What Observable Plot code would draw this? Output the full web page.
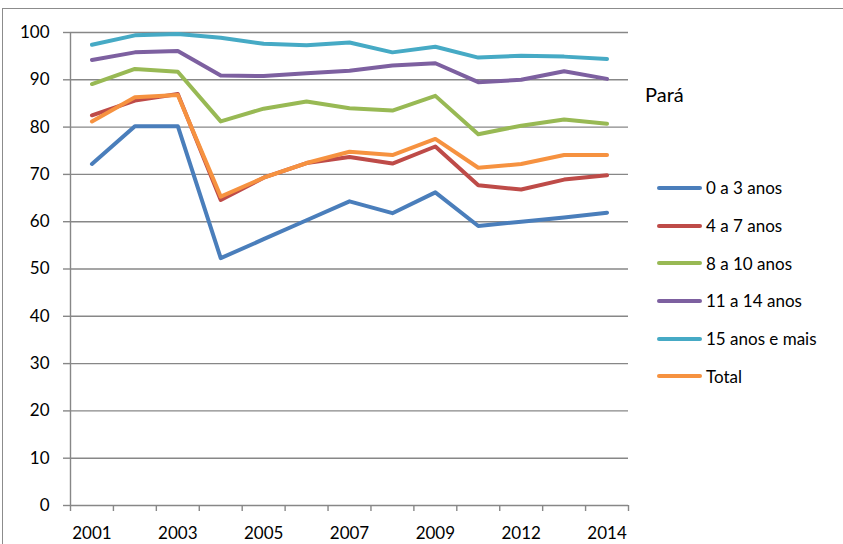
<!DOCTYPE html>
<html>
<head>
<meta charset="utf-8">
<script src="https://cdn.jsdelivr.net/npm/d3@7"></script>
<script src="https://cdn.jsdelivr.net/npm/@observablehq/plot@0.6"></script>
<style>
  html, body { margin: 0; padding: 0; background: #fff; overflow: hidden; }
  #wrap { position: relative; width: 843px; height: 544px; font-family: Lato, "Open Sans", sans-serif; }
  #border { position: absolute; left: 2px; top: 8px; width: 900px; height: 600px;
            border-left: 1px solid #8c8c8c; border-top: 1px solid #8c8c8c; box-sizing: border-box; }
  #chart { position: absolute; left: 0; top: 0; }
  #title { position: absolute; left: 645px; top: 82px; font-size: 20px; color: #000; }
  #legend { position: absolute; left: 657px; top: 169px; }
  .row { height: 37.7px; display: flex; align-items: center; font-size: 17px; color: #000; white-space: nowrap; }
  .sw { width: 45px; height: 4px; border-radius: 2px; margin-right: 4px; }
</style>
</head>
<body>
<div id="wrap">
  <div id="border"></div>
  <div id="chart"></div>
  <div id="title">Pará</div>
  <div id="legend"></div>
</div>
<script>
const years = ["2001","2002","2003","2004","2005","2006","2007","2008","2009","2011","2012","2013","2014"];
const tickYears = ["2001","2003","2005","2007","2009","2012","2014"];
const seriesNames = ["0 a 3 anos","4 a 7 anos","8 a 10 anos","11 a 14 anos","15 anos e mais","Total"];
const colors = ["#4A7EBB","#BE4B48","#98B954","#7D60A0","#46AAC5","#F69240"];
const yTicks = [0,10,20,30,40,50,60,70,80,90,100];

const v0a3   = [72.2, 80.2, 80.2, 52.3, 56.3, 60.3, 64.3, 61.8, 66.2, 59.1, 60.0, 60.9, 61.9];
const v4a7   = [82.5, 85.6, 87.0, 64.6, 69.3, 72.4, 73.7, 72.3, 75.9, 67.7, 66.8, 68.9, 69.8];
const v8a10  = [89.1, 92.3, 91.7, 81.2, 83.9, 85.4, 84.0, 83.5, 86.6, 78.5, 80.3, 81.6, 80.7];
const v11a14 = [94.2, 95.8, 96.1, 90.9, 90.8, 91.4, 91.9, 93.0, 93.5, 89.5, 90.0, 91.8, 90.2];
const v15    = [97.4, 99.4, 99.7, 98.9, 97.6, 97.3, 97.9, 95.8, 97.0, 94.7, 95.1, 94.9, 94.4];
const vTotal = [81.2, 86.3, 86.8, 65.3, 69.3, 72.4, 74.8, 74.1, 77.5, 71.4, 72.2, 74.1, 74.1];

const seriesValues = [v0a3, v4a7, v8a10, v11a14, v15, vTotal];
const data = [];
seriesNames.forEach((s, k) => {
  seriesValues[k].forEach((v, i) => data.push({i, year: years[i], serie: s, value: v}));
});

const idx = years.map((_, i) => i);
const boundaries = d3.range(-0.5, years.length, 1);
const labelIdx = idx.filter(i => tickYears.includes(years[i]));
const gray = "#878787";

const chart = Plot.plot({
  width: 843, height: 544,
  marginLeft: 70, marginRight: 215, marginTop: 32, marginBottom: 39,
  style: {fontFamily: "Lato, 'Open Sans', sans-serif", background: "transparent", overflow: "visible"},
  x: {type: "linear", domain: [-0.5, years.length - 0.5]},
  y: {domain: [0, 100]},
  color: {domain: seriesNames, range: colors},
  marks: [
    Plot.gridY(yTicks, {stroke: gray, strokeOpacity: 1, strokeWidth: 1.4}),
    Plot.ruleX([-0.5], {y1: 0, y2: 100, stroke: gray, strokeWidth: 1.4}),
    Plot.axisY(yTicks, {tickSize: 7, tickPadding: 14, fontSize: 17, stroke: gray, strokeWidth: 1.4, fill: "#000", label: null}),
    Plot.axisX(boundaries, {tickSize: 6, tickFormat: () => "", stroke: gray, strokeWidth: 1.4, label: null}),
    Plot.axisX(labelIdx, {tickSize: 0, tickPadding: 21, fontSize: 17, fill: "#000", tickFormat: i => years[i], label: null}),
    Plot.line(data, {x: "i", y: "value", z: "serie", stroke: "serie", strokeWidth: 4, strokeLinejoin: "round", strokeLinecap: "round"})
  ]
});
document.getElementById("chart").appendChild(chart);

const legend = document.getElementById("legend");
seriesNames.forEach((s, k) => {
  const row = document.createElement("div");
  row.className = "row";
  const sw = document.createElement("span");
  sw.className = "sw";
  sw.style.background = colors[k];
  const t = document.createElement("span");
  t.textContent = s;
  row.appendChild(sw); row.appendChild(t);
  legend.appendChild(row);
});
</script>
</body>
</html>
